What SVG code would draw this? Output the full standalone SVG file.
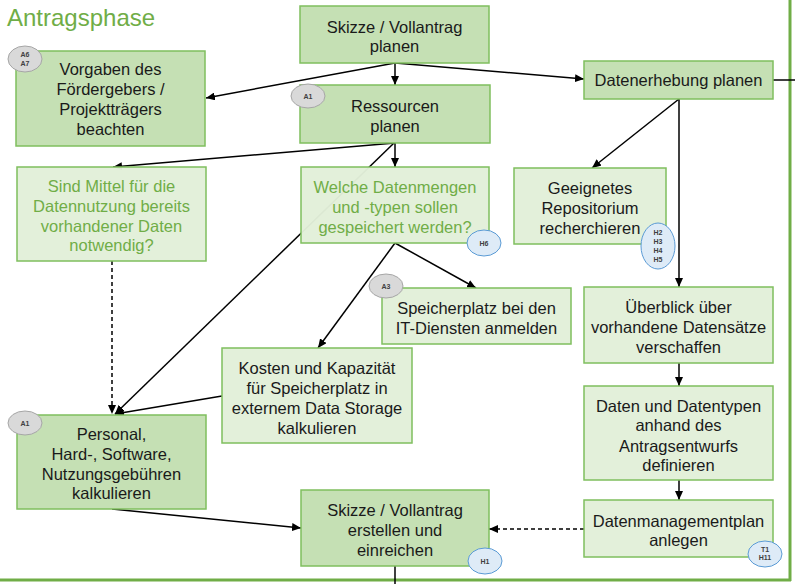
<svg xmlns="http://www.w3.org/2000/svg" width="795" height="584" viewBox="0 0 795 584">
<defs>
<style>
.box{stroke:#7fbf5e;stroke-width:1.5}
.dark{fill:#c5e0b4}
.light{fill:#e2f0d9;fill-opacity:0.97}
.t{font-family:"Liberation Sans",Arial,sans-serif;font-size:16.5px;fill:#1a1a1a;text-anchor:middle}
.g{fill:#70ad47}
.c{stroke:#000;stroke-width:1.5;fill:none}
.dash{stroke-dasharray:4,3}
.bg{fill:#d9d9d9;stroke:#a6a6a6;stroke-width:1}
.bb{fill:#deebf7;stroke:#5b9bd5;stroke-width:1}
.bt{font-family:"Liberation Sans",Arial,sans-serif;font-size:7px;font-weight:bold;fill:#404040;text-anchor:middle}
</style>
<marker id="ah" markerUnits="userSpaceOnUse" markerWidth="9" markerHeight="8" refX="9" refY="4" orient="auto">
<path d="M0,0 L9,4 L0,8 z" fill="#000"/>
</marker>
</defs>
<rect width="795" height="584" fill="#fff"/>
<g id="frame" stroke="#70ad47" stroke-width="3" fill="none">
<line x1="790" y1="0" x2="790" y2="581"/>
<line x1="0" y1="580" x2="791" y2="580"/>
</g>
<text x="7" y="26" font-family="Liberation Sans, Arial, sans-serif" font-size="24" fill="#70ad47">Antragsphase</text>
<g id="connectors">
<line class="c" x1="395" y1="63" x2="395" y2="85" marker-end="url(#ah)"/>
<line class="c" x1="395" y1="63" x2="206" y2="98" marker-end="url(#ah)"/>
<line class="c" x1="395" y1="63" x2="584" y2="79" marker-end="url(#ah)"/>
<line class="c" x1="773" y1="80" x2="795" y2="80"/>
<line class="c" x1="395" y1="143" x2="113" y2="167" marker-end="url(#ah)"/>
<line class="c" x1="395" y1="143" x2="395" y2="167" marker-end="url(#ah)"/>
<line class="c" x1="394" y1="143" x2="115" y2="414" marker-end="url(#ah)"/>
<line class="c" x1="395" y1="243" x2="476" y2="288" marker-end="url(#ah)"/>
<line class="c" x1="395" y1="243" x2="318" y2="348" marker-end="url(#ah)"/>
<line class="c" x1="222" y1="396" x2="115" y2="414" marker-end="url(#ah)"/>
<line class="c dash" x1="112" y1="261" x2="112" y2="414" marker-end="url(#ah)"/>
<line class="c" x1="112" y1="509" x2="301" y2="528" marker-end="url(#ah)"/>
<line class="c dash" x1="584" y1="529" x2="489" y2="529" marker-end="url(#ah)"/>
<line class="c" x1="395" y1="566" x2="395" y2="584"/>
<line class="c" x1="679" y1="99" x2="592" y2="168" marker-end="url(#ah)"/>
<line class="c" x1="679" y1="99" x2="679" y2="287" marker-end="url(#ah)"/>
<line class="c" x1="679" y1="363" x2="679" y2="386" marker-end="url(#ah)"/>
<line class="c" x1="679" y1="480" x2="679" y2="500" marker-end="url(#ah)"/>
</g>
<g id="n-skizze-planen">
<rect class="box dark" x="300" y="6" width="189" height="57"/>
<text class="t" x="394.5" y="33">Skizze / Vollantrag</text>
<text class="t" x="394.5" y="52">planen</text>
</g>
<g id="n-vorgaben">
<rect class="box dark" x="16" y="51" width="189" height="95"/>
<text class="t" x="110.5" y="75">Vorgaben des</text>
<text class="t" x="110.5" y="95">Fördergebers /</text>
<text class="t" x="110.5" y="115">Projektträgers</text>
<text class="t" x="110.5" y="135">beachten</text>
<ellipse class="bg" cx="25" cy="59" rx="17" ry="13"/>
<text class="bt" x="25" y="57">A6</text>
<text class="bt" x="25" y="65.5">A7</text>
</g>
<g id="n-ressourcen">
<rect class="box dark" x="300" y="85" width="190" height="58"/>
<text class="t" x="395" y="112">Ressourcen</text>
<text class="t" x="395" y="132">planen</text>
<ellipse class="bg" cx="308" cy="96" rx="17" ry="12"/>
<text class="bt" x="308" y="98.5">A1</text>
</g>
<g id="n-datenerhebung">
<rect class="box dark" x="584" y="61" width="189" height="38"/>
<text class="t" x="678.5" y="86">Datenerhebung planen</text>
</g>
<g id="n-mittel">
<rect class="box light" x="17" y="167" width="189" height="94"/>
<text class="t g" x="111.5" y="192">Sind Mittel für die</text>
<text class="t g" x="111.5" y="212">Datennutzung bereits</text>
<text class="t g" x="111.5" y="232">vorhandener Daten</text>
<text class="t g" x="111.5" y="251">notwendig?</text>
</g>
<g id="n-welche">
<rect class="box light" x="301" y="167" width="188" height="76"/>
<text class="t g" x="395" y="193">Welche Datenmengen</text>
<text class="t g" x="395" y="213">und -typen sollen</text>
<text class="t g" x="395" y="233">gespeichert werden?</text>
<ellipse class="bb" cx="484" cy="243" rx="17" ry="13"/>
<text class="bt" x="484" y="245.5">H6</text>
</g>
<g id="n-repositorium">
<rect class="box light" x="514" y="168" width="152" height="76"/>
<text class="t" x="590" y="194">Geeignetes</text>
<text class="t" x="590" y="214">Repositorium</text>
<text class="t" x="590" y="234">recherchieren</text>
<ellipse class="bb" cx="658" cy="246" rx="17" ry="23"/>
<text class="bt" x="658" y="234.5">H2</text>
<text class="bt" x="658" y="243.5">H3</text>
<text class="bt" x="658" y="252.5">H4</text>
<text class="bt" x="658" y="262">H5</text>
</g>
<g id="n-speicherplatz">
<rect class="box light" x="382" y="288" width="189" height="56"/>
<text class="t" x="476.5" y="314">Speicherplatz bei den</text>
<text class="t" x="476.5" y="334">IT-Diensten anmelden</text>
<ellipse class="bg" cx="386" cy="286" rx="17" ry="12"/>
<text class="bt" x="386" y="288.5">A3</text>
</g>
<g id="n-ueberblick">
<rect class="box light" x="584" y="287" width="189" height="76"/>
<text class="t" x="678.5" y="313">Überblick über</text>
<text class="t" x="678.5" y="333">vorhandene Datensätze</text>
<text class="t" x="678.5" y="353">verschaffen</text>
</g>
<g id="n-kosten">
<rect class="box light" x="222" y="348" width="190" height="95"/>
<text class="t" x="317" y="374">Kosten und Kapazität</text>
<text class="t" x="317" y="394">für Speicherplatz in</text>
<text class="t" x="317" y="414">externem Data Storage</text>
<text class="t" x="317" y="434">kalkulieren</text>
</g>
<g id="n-personal">
<rect class="box dark" x="17" y="415" width="189" height="94"/>
<text class="t" x="111.5" y="440">Personal,</text>
<text class="t" x="111.5" y="460">Hard-, Software,</text>
<text class="t" x="111.5" y="480">Nutzungsgebühren</text>
<text class="t" x="111.5" y="499">kalkulieren</text>
<ellipse class="bg" cx="25" cy="423" rx="17" ry="12"/>
<text class="bt" x="25" y="425.5">A1</text>
</g>
<g id="n-datentypen">
<rect class="box light" x="584" y="386" width="189" height="94"/>
<text class="t" x="678.5" y="412">Daten und Datentypen</text>
<text class="t" x="678.5" y="431">anhand des</text>
<text class="t" x="678.5" y="452">Antragsentwurfs</text>
<text class="t" x="678.5" y="471">definieren</text>
</g>
<g id="n-dmp">
<rect class="box light" x="584" y="500" width="189" height="57"/>
<text class="t" x="678.5" y="527">Datenmanagementplan</text>
<text class="t" x="678.5" y="546">anlegen</text>
<ellipse class="bb" cx="765" cy="554" rx="17" ry="13"/>
<text class="bt" x="765" y="551.5">T1</text>
<text class="bt" x="765" y="560">H11</text>
</g>
<g id="n-skizze-erstellen">
<rect class="box dark" x="301" y="490" width="188" height="76"/>
<text class="t" x="395" y="516">Skizze / Vollantrag</text>
<text class="t" x="395" y="536">erstellen und</text>
<text class="t" x="395" y="556">einreichen</text>
<ellipse class="bb" cx="485" cy="561" rx="17" ry="13"/>
<text class="bt" x="485" y="563.5">H1</text>
</g>
</svg>
